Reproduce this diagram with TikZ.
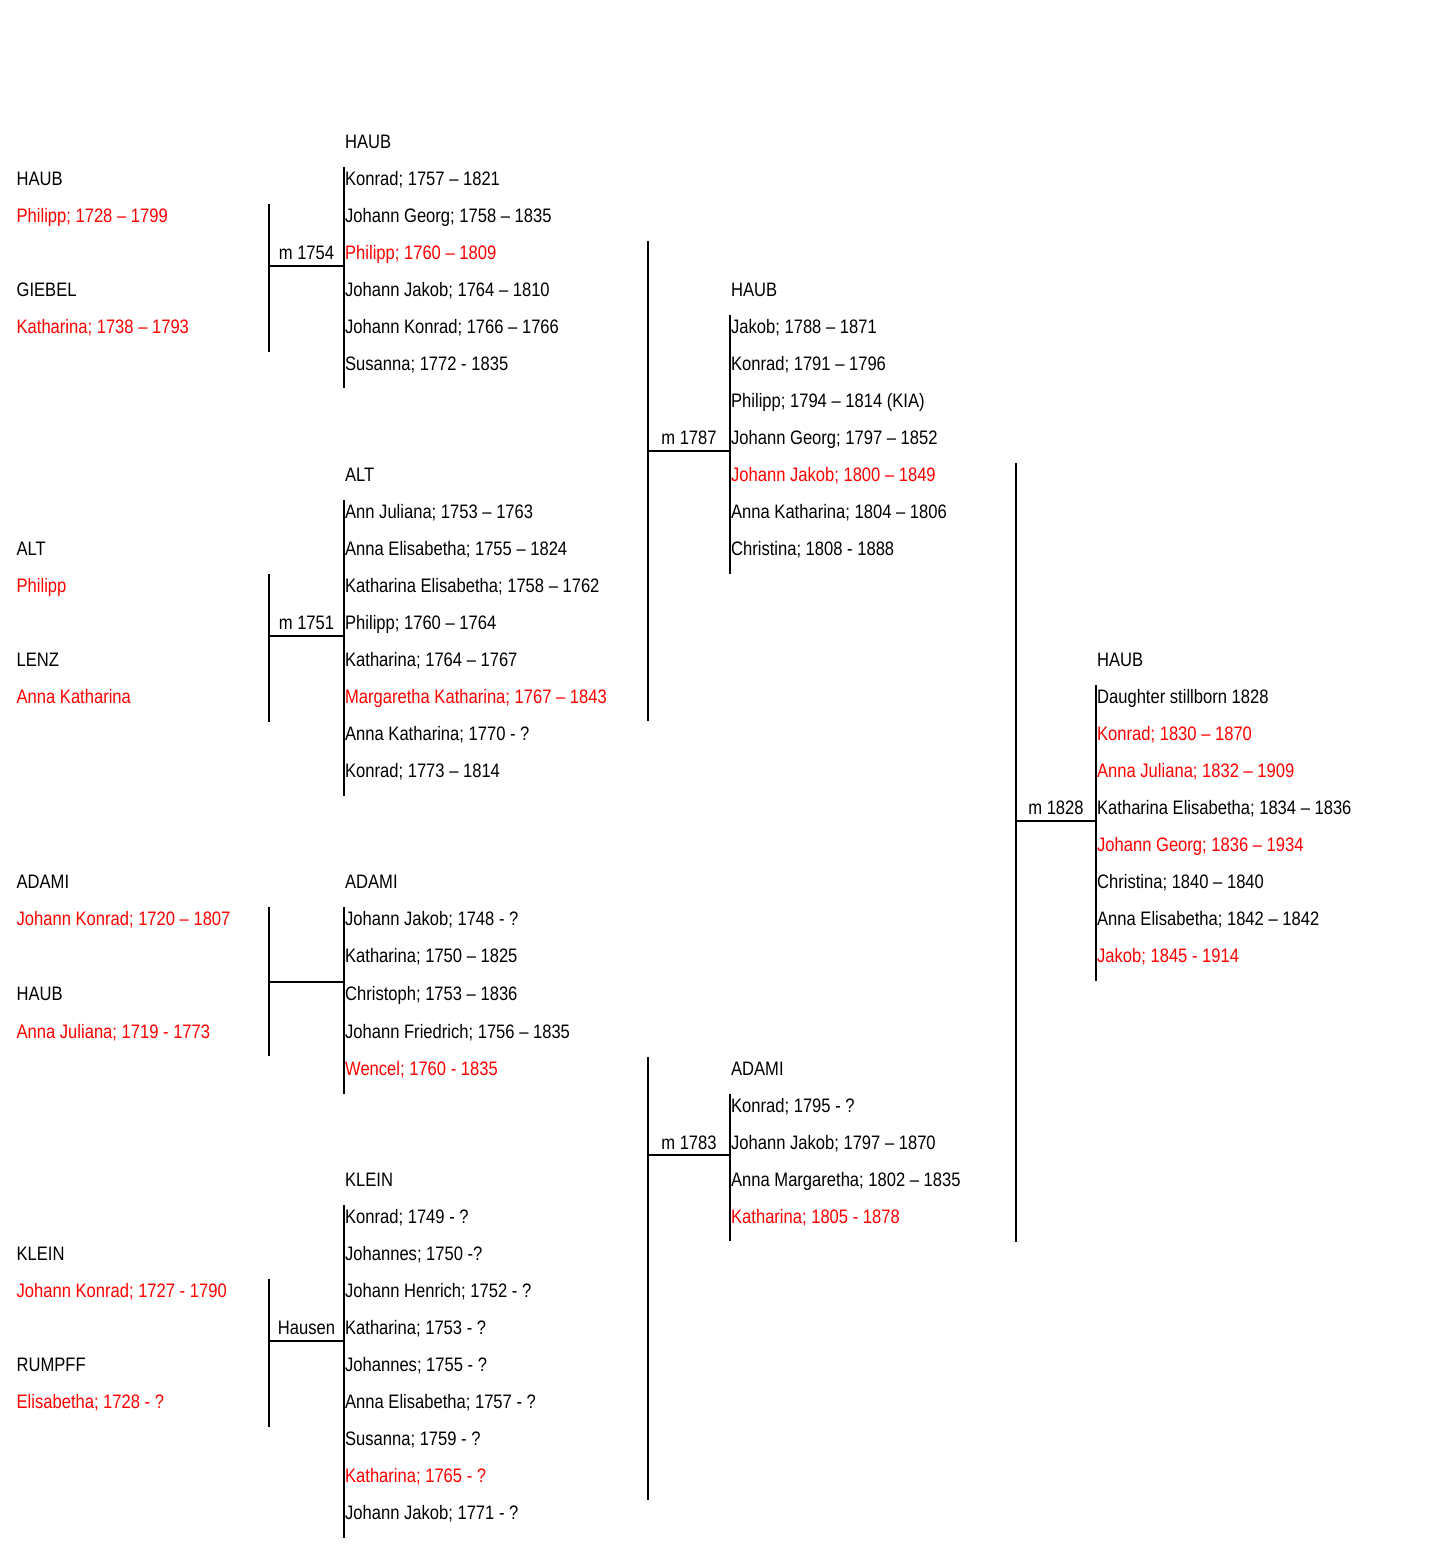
\documentclass[tikz,border=0pt]{standalone}
\usepackage{fontspec}
\setmainfont[FakeStretch=0.85]{Liberation Sans}
\usepackage{tikz}

\begin{document}
\begin{tikzpicture}
  [x=1pt,y=-1pt,
   line width=2.3pt,
   every node/.style={font=\fontsize{19.5}{23}\selectfont},
   person/.style={anchor=base west,inner sep=0pt},
   kin/.style={person,text=red},
   wed/.style={anchor=base,inner sep=0pt}]

  \useasboundingbox (0,0) rectangle (1428,1547);

  % first generation, HAUB x GIEBEL
  \node at (15.5,185)  [person] (haubA)    {HAUB};
  \node at (15.5,222)  [kin]    (philippA) {Philipp; 1728 – 1799};
  \node at (15.5,296)  [person] (giebel)   {GIEBEL};
  \node at (15.5,333)  [kin]    (kathA)    {Katharina; 1738 – 1793};

  \node at (344,148) [person] (haubB) {HAUB};
  \node at (344,185) [person] (hb1) {Konrad; 1757 – 1821};
  \node at (344,222) [person] (hb2) {Johann Georg; 1758 – 1835};
  \node at (344,259) [kin]    (hb3) {Philipp; 1760 – 1809};
  \node at (344,296) [person] (hb4) {Johann Jakob; 1764 – 1810};
  \node at (344,333) [person] (hb5) {Johann Konrad; 1766 – 1766};
  \node at (344,370) [person] (hb6) {Susanna; 1772 - 1835};

  % ALT x LENZ
  \node at (15.5,555)  [person] (altA)     {ALT};
  \node at (15.5,592)  [kin]    (philippB) {Philipp};
  \node at (15.5,666)  [person] (lenz)     {LENZ};
  \node at (15.5,703)  [kin]    (annakA)   {Anna Katharina};

  \node at (344,481) [person] (altB) {ALT};
  \node at (344,518) [person] (al1) {Ann Juliana; 1753 – 1763};
  \node at (344,555) [person] (al2) {Anna Elisabetha; 1755 – 1824};
  \node at (344,592) [person] (al3) {Katharina Elisabetha; 1758 – 1762};
  \node at (344,629) [person] (al4) {Philipp; 1760 – 1764};
  \node at (344,666) [person] (al5) {Katharina; 1764 – 1767};
  \node at (344,703) [kin]    (al6) {Margaretha Katharina; 1767 – 1843};
  \node at (344,740) [person] (al7) {Anna Katharina; 1770 - ?};
  \node at (344,777) [person] (al8) {Konrad; 1773 – 1814};

  % ADAMI x HAUB
  \node at (15.5,888)  [person] (adamiA)  {ADAMI};
  \node at (15.5,925)  [kin]    (jkonrA)  {Johann Konrad; 1720 – 1807};
  \node at (15.5,1000) [person] (haubC)   {HAUB};
  \node at (15.5,1038) [kin]    (julianA) {Anna Juliana; 1719 - 1773};

  \node at (344,888)  [person] (adamiB) {ADAMI};
  \node at (344,925)  [person] (ad1) {Johann Jakob; 1748 - ?};
  \node at (344,962)  [person] (ad2) {Katharina; 1750 – 1825};
  \node at (344,1000) [person] (ad3) {Christoph; 1753 – 1836};
  \node at (344,1038) [person] (ad4) {Johann Friedrich; 1756 – 1835};
  \node at (344,1075) [kin]    (ad5) {Wencel; 1760 - 1835};

  % KLEIN x RUMPFF
  \node at (15.5,1260) [person] (kleinA) {KLEIN};
  \node at (15.5,1297) [kin]    (jkonrB) {Johann Konrad; 1727 - 1790};
  \node at (15.5,1371) [person] (rumpff) {RUMPFF};
  \node at (15.5,1408) [kin]    (elisA)  {Elisabetha; 1728 - ?};

  \node at (344,1186) [person] (kleinB) {KLEIN};
  \node at (344,1223) [person] (kl1) {Konrad; 1749 - ?};
  \node at (344,1260) [person] (kl2) {Johannes; 1750 -?};
  \node at (344,1297) [person] (kl3) {Johann Henrich; 1752 - ?};
  \node at (344,1334) [person] (kl4) {Katharina; 1753 - ?};
  \node at (344,1371) [person] (kl5) {Johannes; 1755 - ?};
  \node at (344,1408) [person] (kl6) {Anna Elisabetha; 1757 - ?};
  \node at (344,1445) [person] (kl7) {Susanna; 1759 - ?};
  \node at (344,1482) [kin]    (kl8) {Katharina; 1765 - ?};
  \node at (344,1519) [person] (kl9) {Johann Jakob; 1771 - ?};

  % second generation
  \node at (730,296) [person] (haubD) {HAUB};
  \node at (730,333) [person] (hd1) {Jakob; 1788 – 1871};
  \node at (730,370) [person] (hd2) {Konrad; 1791 – 1796};
  \node at (730,407) [person] (hd3) {Philipp; 1794 – 1814 (KIA)};
  \node at (730,444) [person] (hd4) {Johann Georg; 1797 – 1852};
  \node at (730,481) [kin]    (hd5) {Johann Jakob; 1800 – 1849};
  \node at (730,518) [person] (hd6) {Anna Katharina; 1804 – 1806};
  \node at (730,555) [person] (hd7) {Christina; 1808 - 1888};

  \node at (730,1075) [person] (adamiC) {ADAMI};
  \node at (730,1112) [person] (ac1) {Konrad; 1795 - ?};
  \node at (730,1149) [person] (ac2) {Johann Jakob; 1797 – 1870};
  \node at (730,1186) [person] (ac3) {Anna Margaretha; 1802 – 1835};
  \node at (730,1223) [kin]    (ac4) {Katharina; 1805 - 1878};

  % third generation
  \node at (1096,666) [person] (haubE) {HAUB};
  \node at (1096,703) [person] (he1) {Daughter stillborn 1828};
  \node at (1096,740) [kin]    (he2) {Konrad; 1830 – 1870};
  \node at (1096,777) [kin]    (he3) {Anna Juliana; 1832 – 1909};
  \node at (1096,814) [person] (he4) {Katharina Elisabetha; 1834 – 1836};
  \node at (1096,851) [kin]    (he5) {Johann Georg; 1836 – 1934};
  \node at (1096,888) [person] (he6) {Christina; 1840 – 1840};
  \node at (1096,925) [person] (he7) {Anna Elisabetha; 1842 – 1842};
  \node at (1096,962) [kin]    (he8) {Jakob; 1845 - 1914};

  % brackets: parents line, children line
  \coordinate (pA1) at (269,204);  \coordinate (pA2) at (269,352);
  \coordinate (kA1) at (344,167);  \coordinate (kA2) at (344,388);
  \coordinate (pB1) at (269,574);  \coordinate (pB2) at (269,722);
  \coordinate (kB1) at (344,500);  \coordinate (kB2) at (344,796);
  \coordinate (pC1) at (269,907);  \coordinate (pC2) at (269,1056);
  \coordinate (kC1) at (344,907);  \coordinate (kC2) at (344,1094);
  \coordinate (pD1) at (269,1279); \coordinate (pD2) at (269,1427);
  \coordinate (kD1) at (344,1205); \coordinate (kD2) at (344,1538);
  \coordinate (pE1) at (648,241);  \coordinate (pE2) at (648,721);
  \coordinate (kE1) at (730,315);  \coordinate (kE2) at (730,574);
  \coordinate (pF1) at (648,1057); \coordinate (pF2) at (648,1500);
  \coordinate (kF1) at (730,1094); \coordinate (kF2) at (730,1241);
  \coordinate (pG1) at (1016,463); \coordinate (pG2) at (1016,1242);
  \coordinate (kG1) at (1096,685); \coordinate (kG2) at (1096,981);

  \coordinate (wA) at (269,266);
  \coordinate (wB) at (269,636);
  \coordinate (wC) at (269,982);
  \coordinate (wD) at (269,1341);
  \coordinate (wE) at (648,451);
  \coordinate (wF) at (648,1155);
  \coordinate (wG) at (1016,821);

  \foreach \f in {A,B,C,D,E,F,G}
    {\draw (p\f1) -- (p\f2);
     \draw (k\f1) -- (k\f2);
     \draw (w\f) -- (w\f -| k\f1);}

  \node at (306.5,259)  [wed] (mA) {m 1754};
  \node at (306.5,629)  [wed] (mB) {m 1751};
  \node at (306.5,1334) [wed] (mD) {Hausen};
  \node at (689,444)    [wed] (mE) {m 1787};
  \node at (689,1149)   [wed] (mF) {m 1783};
  \node at (1056,814)   [wed] (mG) {m 1828};
\end{tikzpicture}
\end{document}
